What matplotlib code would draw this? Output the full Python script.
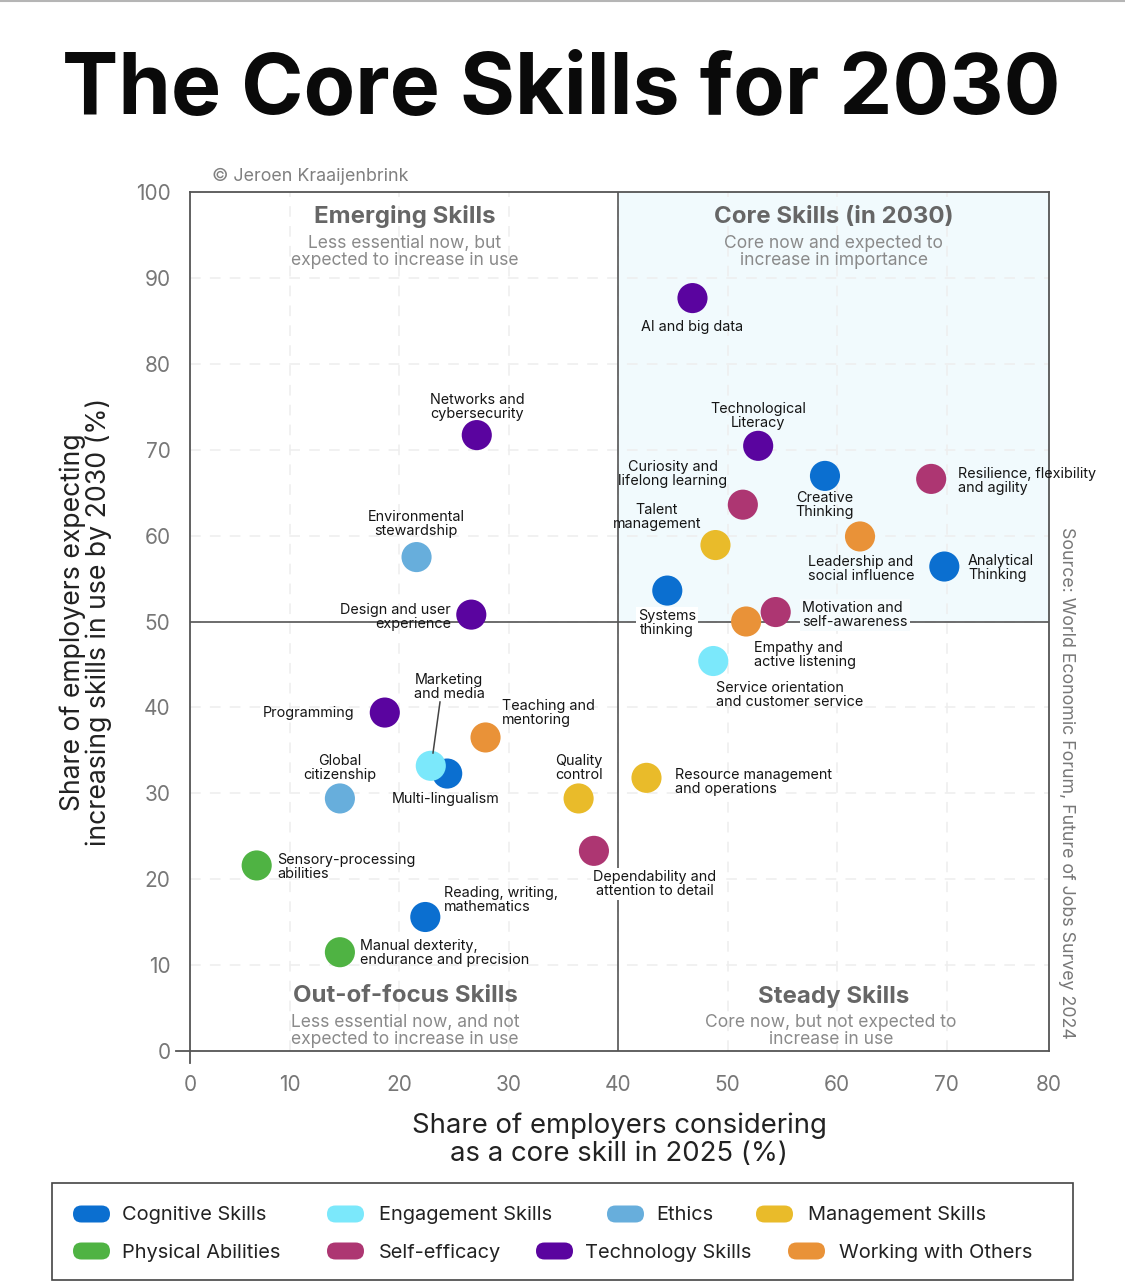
import matplotlib
matplotlib.use('Agg')
import matplotlib.pyplot as plt
from matplotlib.patches import FancyBboxPatch, Rectangle

W, H = 1125, 1286
plt.rcParams['font.family'] = ['Inter', 'DejaVu Sans']

skills = ['AI and big data', 'Networks and\ncybersecurity', 'Technological\nLiteracy', 'Creative\nThinking',
          'Resilience, flexibility\nand agility', 'Curiosity and\nlifelong learning', 'Talent\nmanagement',
          'Leadership and\nsocial influence', 'Analytical\nThinking', 'Environmental\nstewardship',
          'Design and user\nexperience', 'Systems\nthinking', 'Motivation and\nself-awareness',
          'Empathy and\nactive listening', 'Service orientation\nand customer service', 'Programming',
          'Teaching and\nmentoring', 'Multi-lingualism', 'Marketing\nand media', 'Global\ncitizenship',
          'Quality\ncontrol', 'Resource management\nand operations', 'Dependability and\nattention to detail',
          'Sensory-processing\nabilities', 'Reading, writing,\nmathematics', 'Manual dexterity,\nendurance and precision']
core_2025 = [46.8, 27.1, 52.8, 58.9, 68.6, 51.4, 48.9, 62.1, 69.8, 21.6, 26.6, 44.5, 54.4,
             51.7, 48.7, 18.7, 27.9, 24.4, 22.9, 14.6, 36.4, 42.6, 37.8, 7.0, 22.4, 14.6]
increase_2030 = [87.65, 71.7, 70.45, 66.95, 66.6, 63.6, 58.9, 59.9, 56.4, 57.5, 50.8, 53.6, 51.1,
                 50.0, 45.4, 39.4, 36.5, 32.3, 33.2, 29.4, 29.4, 31.8, 23.3, 21.6, 15.6, 11.5]
groups = ['Technology Skills', 'Technology Skills', 'Technology Skills', 'Cognitive Skills',
          'Self-efficacy', 'Self-efficacy', 'Management Skills', 'Working with Others', 'Cognitive Skills',
          'Ethics', 'Technology Skills', 'Cognitive Skills', 'Self-efficacy', 'Working with Others',
          'Engagement Skills', 'Technology Skills', 'Working with Others', 'Cognitive Skills',
          'Engagement Skills', 'Ethics', 'Management Skills', 'Management Skills', 'Self-efficacy',
          'Physical Abilities', 'Cognitive Skills', 'Physical Abilities']
colors = {'Cognitive Skills': '#0b6fd0', 'Engagement Skills': '#7be8fb', 'Ethics': '#67aedc',
          'Management Skills': '#e9bb2a', 'Physical Abilities': '#4fb343', 'Self-efficacy': '#ad3672',
          'Technology Skills': '#5a049f', 'Working with Others': '#e99238'}

x_ticks = [0.91, 10, 20, 30, 40, 50, 60, 70, 79.36]
x_labels = ['0', '10', '20', '30', '40', '50', '60', '70', '80']
y_ticks = [0, 10, 20, 30, 40, 50, 60, 70, 80, 90, 100]

# label anchors in picture pixels: x, y of line block, alignment
label_at = [(692, 326, 'center'), (477, 406, 'center'), (758, 415, 'center'), (825, 504, 'center'),
            (958, 480, 'left'), (673, 473, 'center'), (657, 516, 'center'), (861, 568, 'center'),
            (968, 567, 'left'), (416, 523, 'center'), (451, 616, 'right'), (667, 622, 'center'),
            (802, 614, 'left'), (754, 654, 'left'), (716, 694, 'left'), (263, 712, 'left'),
            (502, 712, 'left'), (446, 798, 'center'), (449, 686, 'center'), (340, 767, 'center'),
            (579, 767, 'center'), (675, 781, 'left'), (655, 883, 'center'), (277, 866, 'left'),
            (444, 899, 'left'), (360, 952, 'left')]

fig = plt.figure(figsize=(W / 100, H / 100), dpi=100, facecolor='white')
ax = fig.add_axes([190 / W, 1 - 1051 / H, 859 / W, 859 / H])
ax.set_xlim(0.91, 79.36)
ax.set_ylim(0, 100)

ax.add_patch(Rectangle((40, 50), 79.36 - 40, 50, fc='#f1fafd', ec='none', zorder=0))
ax.set_xticks(x_ticks)
ax.set_xticklabels(x_labels)
ax.set_yticks(y_ticks)
ax.grid(color='#eeeeee', lw=1.1, ls=(0, (7, 6)), zorder=1)
ax.set_axisbelow(True)
ax.tick_params(axis='x', length=0, labelsize=15, labelcolor='#777777', pad=17)
ax.tick_params(axis='y', length=0, labelsize=15, labelcolor='#777777', pad=14)
ax.plot([0.91, 0.91], [0, -1.4], color='#555555', lw=1.3, clip_on=False)
ax.plot([0.91, -0.4], [0, 0], color='#555555', lw=1.3, clip_on=False)
for s in ax.spines.values():
    s.set_color('#555555')
    s.set_linewidth(1.3)
ax.axvline(40, color='#555555', lw=1.2, zorder=1.5)
ax.axhline(50, color='#555555', lw=1.2, zorder=1.5)

ax.scatter(core_2025, increase_2030, s=470, c=[colors[g] for g in groups], linewidths=0, zorder=3, clip_on=False)

# everything else is placed in picture pixels on a see-through layer
ov = fig.add_axes([0, 0, 1, 1], facecolor='none')
ov.set_xlim(0, W)
ov.set_ylim(H, 0)
ov.axis('off')


def txt(x, y, s, size, color='#222222', ha='center', weight='normal', **kw):
    ov.text(x, y, s, fontsize=size, color=color, ha=ha, va='center', fontweight=weight,
            linespacing=kw.pop('linespacing', 0.92), **kw)


ov.plot([0, W], [0.5, 0.5], color='#b5b5b5', lw=1.5)
txt(561, 92, 'The Core Skills for 2030', 60.7, color='#0a0a0a', weight='bold')
txt(212, 176, '© Jeroen Kraaijenbrink', 12.9, color='#808080', ha='left')

# marketing leader line
ov.plot([440, 433], [702, 753], color='#444444', lw=1.1)

for name, (px, py, ha) in zip(skills, label_at):
    box = None
    if name.startswith(('Systems', 'Dependability')):
        box = dict(fc='white', ec='none', pad=1.5)
    elif name.startswith('Motivation'):
        box = dict(fc='#f6fbfd', ec='none', pad=1.5)
    txt(px, py + 1, name, 10.35, ha=ha, color='#151515', bbox=box, linespacing=0.98)

for x, y, head, sub in [(405, 216, 'Emerging Skills', 'Less essential now, but\nexpected to increase in use'),
                        (834, 216, 'Core Skills (in 2030)', 'Core now and expected to\nincrease in importance'),
                        (405, 995, 'Out-of-focus Skills', 'Less essential now, and not\nexpected to increase in use'),
                        (834, 995, 'Steady Skills', 'Core now, but not expected to\nincrease in use')]:
    txt(x, y + 1, head, 17.3, color='#666666', weight='bold')
    txt(x - (3 if head.startswith('Steady') else 0), y + 36, sub, 12.6, color='#8a8a8a', linespacing=0.98)

txt(86, 622, 'Share of employers expecting\nincreasing skills in use by 2030 (%)', 19.2, color='#222222',
    rotation=90, linespacing=1.0)
txt(619, 1140, 'Share of employers considering\nas a core skill in 2025 (%)', 19.8, color='#222222', linespacing=1.08)
txt(1067, 783, 'Source: World Economic Forum, Future of Jobs Survey 2024', 12.8, color='#777777', rotation=270)

# legend
ov.add_patch(Rectangle((52, 1183), 1021, 97, fc='white', ec='#444444', lw=1.2))
legend_rows = [('Cognitive Skills', 73, 122, 1214), ('Engagement Skills', 327, 379, 1214), ('Ethics', 607, 656, 1214),
               ('Management Skills', 756, 808, 1214), ('Physical Abilities', 73, 122, 1251), ('Self-efficacy', 327, 379, 1251),
               ('Technology Skills', 536, 585, 1251), ('Working with Others', 788, 839, 1251)]
for name, sx, tx, ly in legend_rows:
    ov.add_patch(FancyBboxPatch((sx, ly - 8.5), 37, 17, boxstyle='round,pad=0,rounding_size=8.5',
                                fc=colors[name], ec='none'))
    txt(tx, ly + 1.5, name, 14.4, ha='left')

fig.savefig('out.png', dpi=100)
